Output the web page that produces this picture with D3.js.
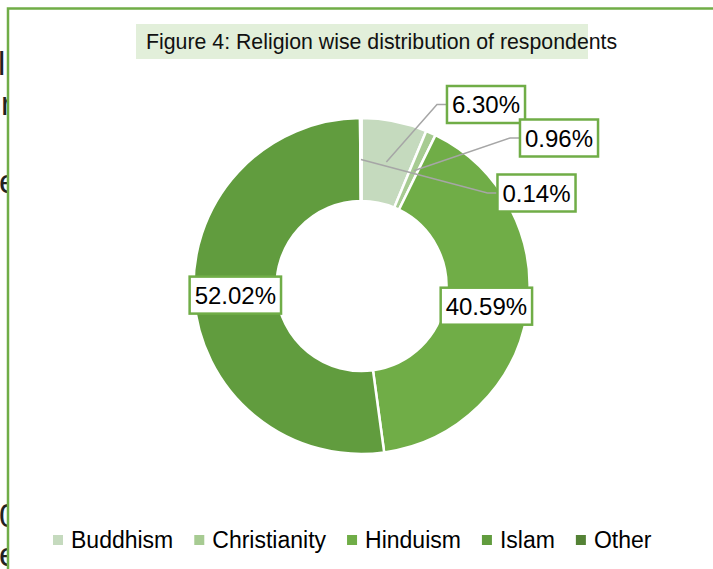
<!DOCTYPE html>
<html>
<head>
<meta charset="utf-8">
<script src="https://cdn.jsdelivr.net/npm/d3@7"></script>
<style>
  body { margin: 0; background: #fff; }
  svg { display: block; font-family: "Liberation Sans", Arial, sans-serif; }
</style>
</head>
<body>
<div class="chart"></div>
<script>
// Religion wise distribution (donut)
var religions = ["Buddhism", "Christianity", "Hinduism", "Islam", "Other"];
var shares = [6.30, 0.96, 40.59, 52.02, 0.14];
var sliceColors = ["#c5dabe", "#a7cb92", "#70ad47", "#619c3e", "#548235"];
var titleText = "Figure 4: Religion wise distribution of respondents";

// where the small-slice labels sit (offset of box centre from donut centre); null = on the slice
var labelOffsets = [[124.5, -181.5], [197.5, -148], null, null, [175, -93]];

var svgWidth = 713;
var svgHeight = 569;
var cx = 361.5, cy = 286;
var outerR = 168, innerR = 85;

var svg = d3.select(".chart")
  .append("svg")
  .attr("width", svgWidth)
  .attr("height", svgHeight);

// bits of page text peeking out left of the frame
var stray = [["l", -2, 75], ["r", 1, 115], ["e", -1, 193], ["0", -1, 527], ["e", -1, 566]];
svg.selectAll("text.stray")
  .data(stray)
  .enter()
  .append("text")
  .attr("class", "stray")
  .attr("x", d => d[1])
  .attr("y", d => d[2])
  .attr("font-size", "33px")
  .attr("fill", "#222")
  .text(d => d[0]);

// frame
svg.append("rect")
  .attr("x", 8)
  .attr("y", 8.5)
  .attr("width", 740)
  .attr("height", 620)
  .attr("fill", "#fff")
  .attr("stroke", "#70ad47")
  .attr("stroke-width", 2.5);

// title
svg.append("rect")
  .attr("x", 136)
  .attr("y", 24)
  .attr("width", 452)
  .attr("height", 35)
  .attr("fill", "#e2efda");

svg.append("text")
  .attr("x", 146)
  .attr("y", 49)
  .attr("font-size", "21.3px")
  .attr("fill", "#111")
  .text(titleText);

// donut
var data = religions.map((r, i) => ({ name: r, value: shares[i], color: sliceColors[i] }));

var pie = d3.pie()
  .sort(null)
  .value(d => d.value);

var arc = d3.arc()
  .innerRadius(innerR)
  .outerRadius(outerR);

var arcs = pie(data);

var chartGroup = svg.append("g")
  .attr("transform", `translate(${cx}, ${cy})`);

chartGroup.selectAll("path")
  .data(arcs)
  .enter()
  .append("path")
  .attr("d", arc)
  .attr("fill", d => d.data.color)
  .attr("stroke", "#fff")
  .attr("stroke-width", 2.5);

// labels
var labels = arcs.map(function(a) {
  var c = arc.centroid(a);
  var off = labelOffsets[a.index];
  return {
    text: a.data.value.toFixed(2) + "%",
    anchor: c,
    pos: off ? off : c,
    leader: !!off
  };
});

var labelGroup = chartGroup.append("g");

var lblText = labelGroup.selectAll("g.lbl")
  .data(labels)
  .enter()
  .append("g")
  .attr("class", "lbl")
  .attr("transform", d => `translate(${d.pos[0]}, ${d.pos[1]})`);

lblText.each(function(d) {
  var g = d3.select(this);
  var t = g.append("text")
    .attr("text-anchor", "middle")
    .attr("y", 8.5)
    .attr("font-size", "24px")
    .attr("fill", "#000")
    .text(d.text);
  var w = t.node().getComputedTextLength() + 10;
  d.w = w;
  g.insert("rect", "text")
    .attr("x", -w / 2)
    .attr("y", -18.5)
    .attr("width", w)
    .attr("height", 37)
    .attr("fill", "#fff")
    .attr("stroke", "#70ad47")
    .attr("stroke-width", 2.5);
});

// leader lines go under the boxes
labelGroup.selectAll("polyline")
  .data(labels.filter(d => d.leader))
  .enter()
  .insert("polyline", "g.lbl")
  .attr("points", function(d) {
    var left = d.pos[0] - d.w / 2;
    return [d.anchor, [left - 10, d.pos[1]], [left, d.pos[1]]].map(p => p.join(",")).join(" ");
  })
  .attr("fill", "none")
  .attr("stroke", "#a6a6a6")
  .attr("stroke-width", 1.5);

// legend
var legend = svg.append("g")
  .attr("transform", "translate(53, 540)");

var lx = 0;
data.forEach(function(d) {
  var item = legend.append("g").attr("transform", `translate(${lx}, 0)`);
  item.append("rect")
    .attr("x", 0)
    .attr("y", -5)
    .attr("width", 10)
    .attr("height", 10)
    .attr("fill", d.color);
  var t = item.append("text")
    .attr("x", 18)
    .attr("y", 8)
    .attr("font-size", "23px")
    .attr("fill", "#000")
    .text(d.name);
  lx += 18 + t.node().getComputedTextLength() + 21;
});
</script>
</body>
</html>
